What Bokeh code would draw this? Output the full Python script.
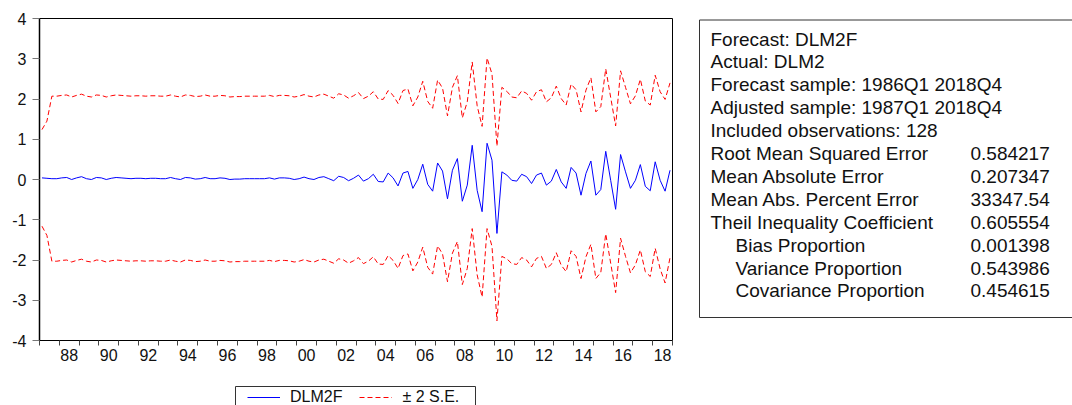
from bokeh.plotting import figure
from bokeh.models import (Range1d, FixedTicker, Legend, LegendItem, ColumnDataSource)
from bokeh.layouts import row, column
from bokeh.core.properties import value
from bokeh.embed import file_html
from bokeh.resources import INLINE

# ---------------- data ----------------
start_year = 1987  # 1987Q1 .. 2018Q4, quarterly
forecast = [
    0.04, 0.03, 0.02, 0.02, 0.04, 0.05, 0.00, 0.04, 0.07, 0.02,
    0.00, 0.05, 0.04, 0.00, 0.03, 0.05, 0.04, 0.03, 0.02, 0.03,
    0.03, 0.02, 0.03, 0.03, 0.02, 0.02, 0.05, 0.02, 0.00, 0.05,
    0.04, 0.01, 0.02, 0.05, 0.02, 0.02, 0.04, 0.03, 0.00, 0.01,
    0.01, 0.02, 0.02, 0.02, 0.02, 0.02, 0.04, 0.01, 0.04, 0.04,
    0.03, 0.00, 0.02, 0.06, 0.02, 0.00, 0.05, 0.07, 0.02, -0.03,
    0.08, 0.05, -0.03, 0.03, 0.11, -0.04, 0.02, 0.13, -0.05, -0.06,
    0.16, 0.04, -0.16, 0.16, 0.20, -0.22, 0.00, 0.38, -0.12, -0.29,
    0.41, 0.21, -0.48, 0.23, 0.52, -0.54, -0.14, 0.85, -0.27, -0.80,
    0.90, 0.48, -1.34, 0.19, 0.11, -0.02, -0.04, 0.13, 0.07, -0.10,
    0.11, 0.16, -0.14, -0.04, 0.25, -0.06, -0.22, 0.30, 0.16, -0.39,
    0.15, 0.46, -0.39, -0.25, 0.70, -0.02, -0.74, 0.62, 0.19, -0.22,
    -0.02, 0.37, -0.17, -0.28, 0.44, -0.02, -0.29, 0.23,
]
two_se = [
    1.20, 1.42, 2.05, 2.05, 2.05, 2.05, 2.05, 2.05, 2.05, 2.05,
    2.05, 2.05, 2.05, 2.05, 2.05, 2.05, 2.05, 2.05, 2.05, 2.05,
    2.05, 2.05, 2.05, 2.05, 2.05, 2.05, 2.05, 2.05, 2.05, 2.05,
    2.05, 2.05, 2.05, 2.05, 2.05, 2.05, 2.05, 2.05, 2.05, 2.05,
    2.05, 2.05, 2.05, 2.05, 2.05, 2.05, 2.05, 2.05, 2.05, 2.05,
    2.05, 2.05, 2.05, 2.05, 2.05, 2.05, 2.05, 2.05, 2.05, 2.05,
    2.05, 2.05, 2.05, 2.05, 2.05, 2.05, 2.05, 2.05, 2.05, 2.05,
    2.05, 2.05, 2.05, 2.05, 2.05, 2.05, 2.05, 2.06, 2.06, 2.06,
    2.06, 2.06, 2.06, 2.06, 2.06, 2.07, 2.07, 2.07, 2.10, 2.12,
    2.12, 2.14, 2.17, 2.10, 2.08, 2.07, 2.07, 2.07, 2.07, 2.07,
    2.07, 2.07, 2.07, 2.07, 2.07, 2.07, 2.07, 2.07, 2.07, 2.07,
    2.07, 2.07, 2.07, 2.06, 2.05, 2.06, 2.07, 2.08, 2.10, 2.10,
    2.10, 2.12, 2.12, 2.13, 2.15, 2.20, 2.28, 2.17,
]
y_ticks = [-4, -3, -2, -1, 0, 1, 2, 3, 4]
y_tick_labels = ["-4", "-3", "-2", "-1", "0", "1", "2", "3", "4"]
x_tick_labels = ["88", "90", "92", "94", "96", "98", "00", "02",
                 "04", "06", "08", "10", "12", "14", "16", "18"]
series_names = ["DLM2F", "\u00b1 2 S.E."]

stat_labels = [
    "Forecast: DLM2F",
    "Actual: DLM2",
    "Forecast sample: 1986Q1 2018Q4",
    "Adjusted sample: 1987Q1 2018Q4",
    "Included observations: 128",
    "Root Mean Squared Error",
    "Mean Absolute Error",
    "Mean Abs. Percent Error",
    "Theil Inequality Coefficient",
    "Bias Proportion",
    "Variance Proportion",
    "Covariance Proportion",
]
stat_indent = [0, 0, 0, 0, 0, 0, 0, 0, 0, 1, 1, 1]
stat_values = ["", "", "", "", "", "0.584217", "0.207347", "33347.54",
               "0.605554", "0.001398", "0.543986", "0.454615"]

# ---------------- derived ----------------
n = len(forecast)
x = [start_year + (k + 0.5) / 4 for k in range(n)]
upper = [f + s for f, s in zip(forecast, two_se)]
lower = [f - s for f, s in zip(forecast, two_se)]
end_year = start_year + n // 4
label_years = [1988 + 2 * k + 0.5 for k in range(len(x_tick_labels))]

FONT = value("Liberation Sans")
H_TOP = 376          # height of the chart row
H_LEG = 29           # height of the legend strip below it
FR_L, FR_R = 39, 672
FR_TOP, FR_BOT = 18, 340
W1, W2 = 690, 382
BLUE, RED, DASH = "#0000FF", "#FF0000", "5 3"
NAN = float("nan")

# ---------------- main chart ----------------
p = figure(width=W1, height=H_TOP, x_range=Range1d(start_year, end_year),
           y_range=Range1d(-4, 4), toolbar_location=None, output_backend="svg",
           min_border_left=FR_L, min_border_right=W1 - FR_R, min_border_top=FR_TOP,
           min_border_bottom=H_TOP - FR_BOT, title=None)
p.background_fill_color = "white"
p.border_fill_color = "white"
p.outline_line_color = "black"
p.outline_line_width = 1
p.xgrid.visible = False
p.ygrid.visible = False

r_up = p.line(x, upper, line_color=RED, line_width=1, line_dash=DASH)
r_lo = p.line(x, lower, line_color=RED, line_width=1, line_dash=DASH)
r_f = p.line(x, forecast, line_color=BLUE, line_width=1)

xa = p.xaxis[0]
xa.ticker = FixedTicker(ticks=label_years,
                        minor_ticks=list(range(start_year, end_year + 1)))
xa.major_label_overrides = {ly: lab for ly, lab in zip(label_years, x_tick_labels)}
xa.major_tick_in = 0
xa.major_tick_out = 5
xa.major_tick_line_color = None
xa.minor_tick_in = 0
xa.minor_tick_out = 5
xa.minor_tick_line_color = "#444444"
xa.axis_line_color = "black"
xa.axis_line_width = 1
xa.major_label_standoff = 3
xa.major_label_text_font = "Liberation Sans"
xa.major_label_text_font_size = "16px"
xa.major_label_text_color = "#111111"

ya = p.yaxis[0]
ya.ticker = FixedTicker(ticks=y_ticks, minor_ticks=[])
ya.major_label_overrides = {t: lab for t, lab in zip(y_ticks, y_tick_labels)}
ya.major_tick_in = 0
ya.major_tick_out = 7
ya.major_tick_line_color = "#777777"
ya.minor_tick_out = 0
ya.minor_tick_in = 0
ya.axis_line_color = "black"
ya.axis_line_width = 1.5
ya.major_label_standoff = 6
ya.major_label_text_font = "Liberation Sans"
ya.major_label_text_font_size = "16px"
ya.major_label_text_color = "#111111"

# ---------------- statistics panel ----------------
q = figure(width=W2, height=H_TOP, x_range=Range1d(0, W2),
           y_range=Range1d(FR_BOT, FR_TOP),
           toolbar_location=None, output_backend="svg", min_border_left=0,
           min_border_right=0, min_border_top=FR_TOP,
           min_border_bottom=H_TOP - FR_BOT,
           x_axis_location=None, y_axis_location=None, title=None)
q.outline_line_color = None
q.xgrid.visible = False
q.ygrid.visible = False
q.background_fill_color = "white"
q.border_fill_color = "white"

# box (its right edge lies beyond the visible area, as in the original)
q.quad(left=[9], right=[W2 + 20], top=[19.5], bottom=[317],
       fill_color="white", line_color="#333333", line_width=1)

line_gap = 22.9
ys = [38.5 + k * line_gap for k in range(len(stat_labels))]
xs = [20 + 25 * ind for ind in stat_indent]
src_l = ColumnDataSource(dict(x=xs, y=ys, t=stat_labels))
q.text(x="x", y="y", text="t", source=src_l, text_font=FONT,
       text_font_size="19px", text_baseline="middle", text_align="left",
       text_color="#111111")
src_v = ColumnDataSource(dict(x=[280] * len(stat_values), y=ys, t=stat_values))
q.text(x="x", y="y", text="t", source=src_v, text_font=FONT,
       text_font_size="19px", text_baseline="middle", text_align="left",
       text_color="#111111")

# ---------------- legend strip ----------------
lf = figure(width=W1, height=H_LEG, x_range=Range1d(FR_L, FR_R),
            y_range=Range1d(H_TOP + H_LEG, H_TOP),
            toolbar_location=None, output_backend="svg",
            min_border_left=FR_L, min_border_right=W1 - FR_R,
            min_border_top=0, min_border_bottom=0,
            x_axis_location=None, y_axis_location=None, title=None)
lf.outline_line_color = None
lf.xgrid.visible = False
lf.ygrid.visible = False
lf.background_fill_color = "white"
lf.border_fill_color = "white"
# legend frame (its bottom edge lies below the visible area, as in the original)
lf.quad(left=[235], right=[475], top=[386], bottom=[H_TOP + H_LEG + 10],
        fill_color="white", line_color="#333333", line_width=1)
# legend proxies carrying the same styles as the chart's series (no visible data)
k_f = lf.line([NAN, NAN], [NAN, NAN], line_color=BLUE, line_width=1)
k_se = lf.line([NAN, NAN], [NAN, NAN], line_color=RED, line_width=1, line_dash=DASH)
legend = Legend(items=[LegendItem(label=series_names[0], renderers=[k_f]),
                       LegendItem(label=series_names[1], renderers=[k_se])],
                orientation="horizontal", location=(247 - FR_L, -1),
                padding=0, spacing=17, label_standoff=10,
                glyph_width=33, glyph_height=18, label_height=18,
                border_line_color=None, background_fill_alpha=0,
                label_text_font="Liberation Sans", label_text_font_size="16px",
                label_text_color="#111111", margin=0)
lf.add_layout(legend)

layout = column(row(p, q, spacing=0), lf, spacing=0)
open("out.html", "w").write(file_html(layout, INLINE))
